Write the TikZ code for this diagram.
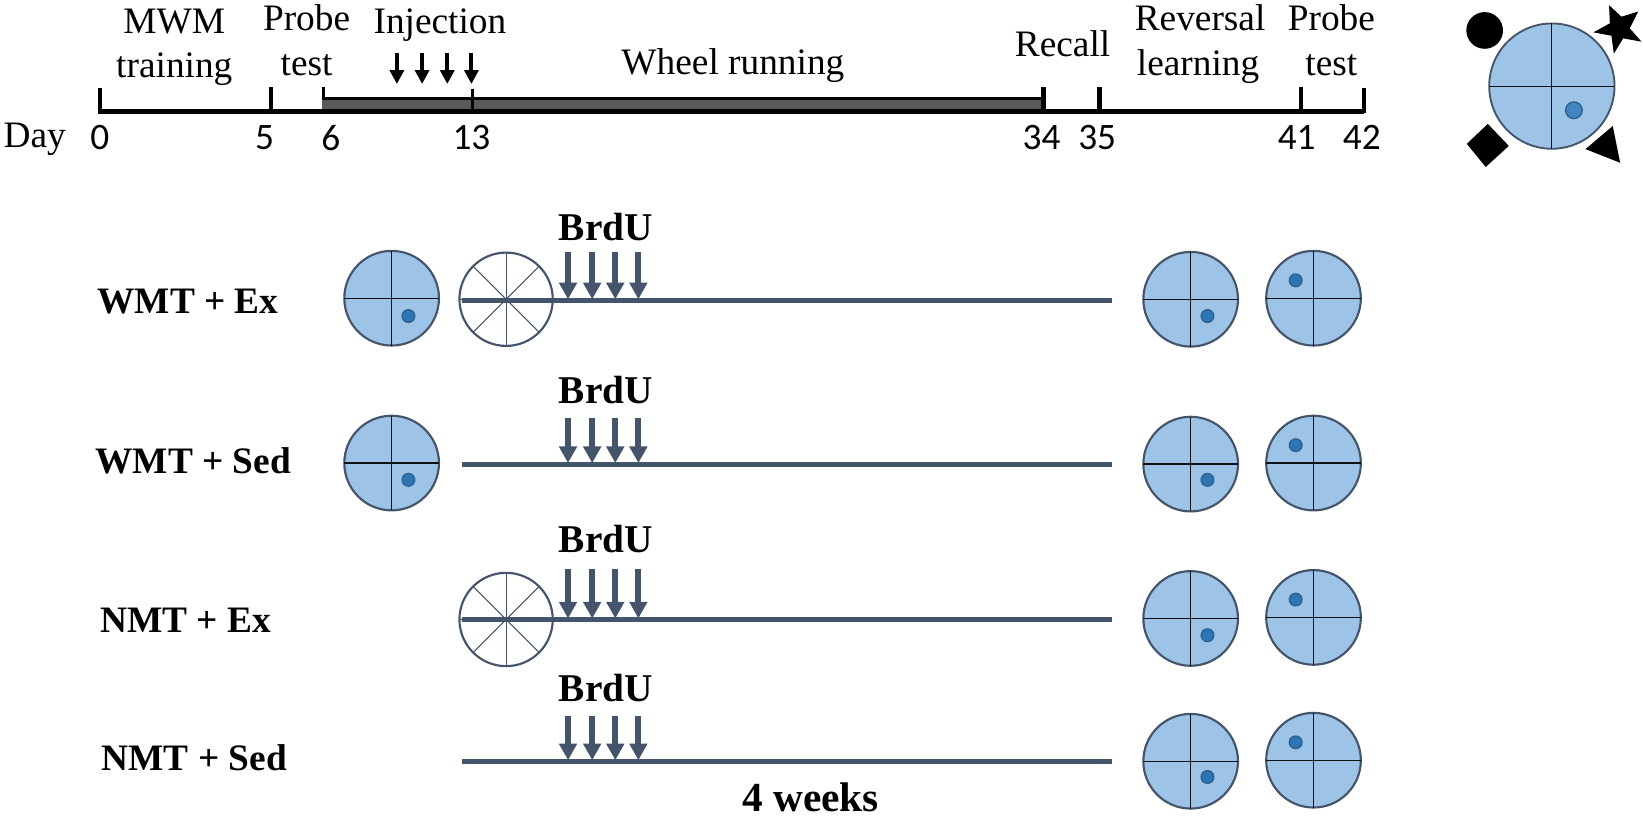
\documentclass[tikz,border=0pt]{standalone}
\usepackage{fontspec}
\setmainfont{Liberation Serif}
\newfontfamily\numfont{Carlito}
\usetikzlibrary{arrows.meta,shapes.geometric}
\definecolor{pooledge}{HTML}{44546A}
\definecolor{poolfill}{HTML}{9DC3E6}
\definecolor{dotfill}{HTML}{2E75B6}
\definecolor{dotedge}{HTML}{2F5F8F}
\tikzset{
  lab/.style={font=\fontsize{28}{30}\selectfont,inner sep=0pt,text=black},
  bold/.style={font=\fontsize{28}{30}\selectfont\bfseries,inner sep=0pt,text=black},
  num/.style={font=\numfont\fontsize{28}{30}\selectfont,inner sep=0pt,text=black},
  pool/.style={circle,draw=pooledge,fill=poolfill,line width=1.6pt,minimum size=71pt,inner sep=0pt,outer sep=0pt},
  wheel/.style={circle,draw=pooledge,fill=white,line width=1.6pt,minimum size=70pt,inner sep=0pt,outer sep=0pt},
  goal/.style={circle,draw=dotedge,fill=dotfill,line width=1pt,minimum size=9.5pt,inner sep=0pt},
  axis/.style={line width=3.9pt,black},
  tick/.style={line width=3.3pt,black},
  timeline/.style={line width=3.8pt,pooledge},
  brdu/.style={line width=4.5pt,pooledge,-{Triangle[width=13pt,length=12.5pt]},shorten >=0pt},
  inj/.style={line width=3pt,black,-{Triangle[width=10.5pt,length=10.5pt]}},
  cross/.style={line width=.9pt,black!80!pooledge},
  spoke/.style={line width=.8pt,pooledge},
}
\newcommand{\poolat}[5]{%
  \node[pool] (#1) at (#2,#3) {};
  \draw[cross] (#1.north) -- (#1.south);
  \draw[cross] (#1.west) -- (#1.east);
  \node[goal] (#1g) at (#4,#5) {};
}
\newcommand{\wheelat}[3]{%
  \node[wheel] (#1) at (#2,#3) {};
  \foreach \a in {0,45,90,135} {\draw[spoke] (#1.\a) -- (#1.\a+180);}
}
\newcommand{\brduset}[3]{% name, line y, arrow top y
  \foreach \i/\x in {1/541,2/564,3/586,4/608} {
    \coordinate (#1t\i) at (\x,#3);
    \coordinate (#1b\i) at (\x,#2);
    \draw[brdu] (#1t\i) -- (#1b\i);
  }
}
\begin{document}
\begin{tikzpicture}[x=0.7875pt,y=-0.7875pt]
\useasboundingbox (0,0) rectangle (1564.8,779);
% timeline
\coordinate (d0) at (93,106);
\coordinate (d42) at (1299,106);
\coordinate (bs) at (307,94);
\coordinate (be) at (993,104);
\fill[black!65] (bs) rectangle (be);
\draw[line width=2.2pt,black] (bs) -- (be |- bs);
\draw[axis] (d0) -- (d42);
\draw[tick] (95,84) -- (95,108);
\draw[tick] (258,83) -- (258,106);
\draw[tick,line width=2.6pt] (308,83) -- (308,94);
\draw[tick,line width=2.6pt] (450,85) -- (450,108.5);
\draw[tick] (994,83) -- (994,106);
\draw[tick] (1047,83) -- (1047,106);
\draw[tick] (1239,83) -- (1239,106);
\draw[tick] (1299,84) -- (1299,108);
\foreach \i/\x in {1/378,2/402,3/426,4/449} {
  \coordinate (it\i) at (\x,50);
  \coordinate (ib\i) at (\x,80);
  \draw[inj] (it\i) -- (ib\i);
}
% top labels
\node[lab] (mwm) at (166,21) {MWM};
\node[lab] (train) at (166,66) {training};
\node[lab] (p1) at (292,17) {Probe};
\node[lab] (t1) at (292,62) {test};
\node[lab] (injl) at (419,24) {Injection};
\node[lab] (wheelrun) at (698,62) {Wheel running};
\node[lab] (recall) at (1012,42) {Recall};
\node[lab] (rev) at (1143,17) {Reversal};
\node[lab] (learn) at (1141,63) {learning};
\node[lab] (p2) at (1268,17) {Probe};
\node[lab] (t2) at (1268,62) {test};
\node[lab] (day) at (33,133) {Day};
\foreach \n/\x/\t in {a/95/0,b/252/5,c/315/6,e/449/13,f/992/34,g/1045/35,h/1235/41,i/1297/42} {
  \node[num] (n\n) at (\x,131) {\t};
}
% cue pool
\node[pool,minimum size=94pt,line width=1.4pt] (big) at (1478,82) {};
\draw[cross] (big.north) -- (big.south);
\draw[cross] (big.west) -- (big.east);
\node[circle,draw=dotedge,fill=dotfill!80!poolfill,line width=1pt,minimum size=12.5pt,inner sep=0pt] (bigg) at (1499,105) {};
\node[circle,fill=black,minimum size=27.5pt,inner sep=0pt] (cueA) at (1414,29) {};
\fill[black] (1532.5,5) -- (1544.3,15.9) -- (1560.2,11) -- (1552.2,27) -- (1563.4,39.7) -- (1545.9,36.5) -- (1537,51.2) -- (1534.7,34) -- (1517.6,30.8) -- (1533.2,22.2) -- cycle;
\fill[black] (1417,118) -- (1437,139) -- (1415,159) -- (1397,137) -- cycle;
\fill[black] (1536,120) -- (1543,155) -- (1510,142) -- cycle;
% rows
\foreach \r/\y in {1/286,2/442,3/590,4/725} {
  \coordinate (la\r) at (440,\y);
  \coordinate (lb\r) at (1059,\y);
}
\poolat{a1}{373}{284}{389}{301}
\poolat{a2}{373}{441}{389}{457}
\wheelat{w1}{482}{285}
\wheelat{w3}{482}{590}
\foreach \r in {1,2,3,4} {\draw[timeline] (la\r) -- (lb\r);}
\brduset{r1}{285}{240}
\brduset{r2}{441}{398}
\brduset{r3}{589}{542}
\brduset{r4}{724}{682}
\poolat{c1}{1134}{285}{1150}{301}
\poolat{d1}{1251}{284}{1234}{267}
\poolat{c2}{1134}{442}{1150}{457}
\poolat{d2}{1251}{441}{1234}{424}
\poolat{c3}{1134}{589}{1150}{605}
\poolat{d3}{1251}{588}{1234}{571}
\poolat{c4}{1134}{725}{1150}{740}
\poolat{d4}{1251}{724}{1234}{707}
\tikzset{brdulab/.style={bold,font=\fontsize{29.5}{31}\selectfont\bfseries}}
\node[brdulab] (b1) at (577,216) {BrdU};
\node[brdulab] (b2) at (577,371) {BrdU};
\node[brdulab] (b3) at (577,513) {BrdU};
\node[brdulab] (b4) at (577,655) {BrdU};
\node[bold] (g1) at (179,287) {WMT + Ex};
\node[bold] (g2) at (184,439) {WMT + Sed};
\node[bold] (g3) at (177,591) {NMT + Ex};
\node[bold] (g4) at (185,722) {NMT + Sed};
\node[bold,font=\fontsize{31}{33}\selectfont\bfseries] (wk) at (772,759.5) {4 weeks};
\end{tikzpicture}
\end{document}
